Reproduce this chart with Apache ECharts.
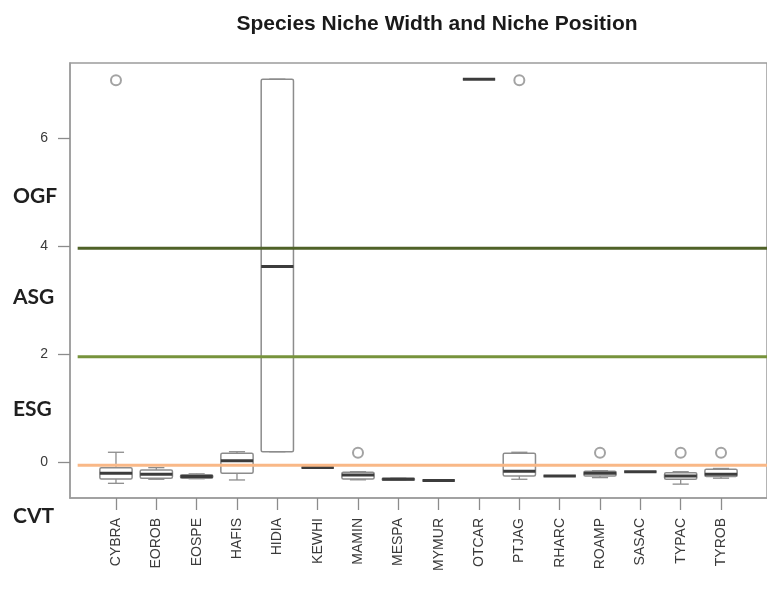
<!DOCTYPE html>
<html>
<head>
<meta charset="utf-8">
<title>Species Niche Width and Niche Position</title>
<script src="https://cdn.jsdelivr.net/npm/echarts@6/dist/echarts.min.js"></script>
<style>
  html, body { margin: 0; padding: 0; background: #ffffff; }
  #chart { width: 767px; height: 591px; }
</style>
</head>
<body>
<div id="chart"></div>
<script>
// Species codes along the x axis
const species = ['CYBRA', 'EOROB', 'EOSPE', 'HAFIS', 'HIDIA', 'KEWHI', 'MAMIN', 'MESPA',
                 'MYMUR', 'OTCAR', 'PTJAG', 'RHARC', 'ROAMP', 'SASAC', 'TYPAC', 'TYROB'];

// Five-number summaries of niche position per species
const whiskerLow  = [-0.395, -0.32, -0.31, -0.333, 0.19, -0.10, -0.33, -0.335, -0.345, 7.09, -0.32, -0.26, -0.29, -0.18, -0.41, -0.30];
const lowerQuart  = [-0.315, -0.30, -0.30, -0.21, 0.19, -0.10, -0.315, -0.335, -0.345, 7.09, -0.26, -0.26, -0.26, -0.18, -0.32, -0.27];
const medians     = [-0.21, -0.228, -0.27, 0.024, 3.62, -0.10, -0.24, -0.32, -0.345, 7.09, -0.17, -0.26, -0.21, -0.18, -0.26, -0.228];
const upperQuart  = [-0.105, -0.148, -0.235, 0.16, 7.09, -0.10, -0.19, -0.30, -0.345, 7.09, 0.16, -0.26, -0.17, -0.18, -0.20, -0.135];
const whiskerHigh = [0.18, -0.105, -0.22, 0.19, 7.09, -0.10, -0.18, -0.30, -0.345, 7.09, 0.18, -0.26, -0.16, -0.18, -0.18, -0.12];

// Outlying observations: species index (1-based) and value
const outlierSpecies = [1, 7, 11, 13, 15, 16];
const outlierValues  = [7.07, 0.17, 7.07, 0.17, 0.17, 0.17];

// Y-axis ticks
const yTicks = [0, 2, 4, 6];

// Zone boundaries and the zone names written beside the axis
const boundaryValues = [3.96, 1.95, -0.06];
const boundaryColors = ['#4f6228', '#77933c', '#f9b887'];
const zoneNames = ['OGF', 'ASG', 'ESG', 'CVT'];

const chart = echarts.init(document.getElementById('chart'), null, { renderer: 'canvas' });

const boxData = species.map((s, i) => [i + 1, whiskerLow[i], lowerQuart[i], medians[i], upperQuart[i], whiskerHigh[i]]);
const outlierData = outlierSpecies.map((s, i) => [s, outlierValues[i]]);

const boxStroke = '#8c8c8c';

function renderBox(params, api) {
  const x = api.value(0);
  const lo = api.coord([x, api.value(1)]);
  const q1 = api.coord([x, api.value(2)]);
  const md = api.coord([x, api.value(3)]);
  const q3 = api.coord([x, api.value(4)]);
  const hi = api.coord([x, api.value(5)]);
  const halfW = api.size([0.4, 0])[0];
  const cx = lo[0];
  const thin = { stroke: boxStroke, lineWidth: 1.3, fill: null };
  return {
    type: 'group',
    children: [
      { type: 'line', shape: { x1: cx, y1: q3[1], x2: cx, y2: hi[1] }, style: thin },
      { type: 'line', shape: { x1: cx, y1: q1[1], x2: cx, y2: lo[1] }, style: thin },
      { type: 'line', shape: { x1: cx - halfW / 2, y1: hi[1], x2: cx + halfW / 2, y2: hi[1] }, style: thin },
      { type: 'line', shape: { x1: cx - halfW / 2, y1: lo[1], x2: cx + halfW / 2, y2: lo[1] }, style: thin },
      { type: 'rect', shape: { x: cx - halfW, y: q3[1], width: halfW * 2, height: q1[1] - q3[1], r: 1.5 },
        style: { stroke: boxStroke, lineWidth: 1.5, fill: 'rgba(255,255,255,0)' } },
      { type: 'line', shape: { x1: cx - halfW, y1: md[1], x2: cx + halfW, y2: md[1] },
        style: { stroke: '#3c3c3c', lineWidth: 3 } }
    ]
  };
}

const lineSeries = boundaryValues.map((v, i) => ({
  type: 'line',
  data: [[0.05, v], [17.14, v]],
  symbol: 'none',
  silent: true,
  clip: false,
  z: 5,
  lineStyle: { color: boundaryColors[i], width: 3 }
}));

const zoneY = [198, 299, 411, 518];

const option = {
  backgroundColor: '#ffffff',
  animation: false,
  title: {
    text: 'Species Niche Width and Niche Position',
    left: 432,
    top: 9,
    textAlign: 'center',
    textStyle: { fontFamily: 'Liberation Sans', fontWeight: 'bold', fontSize: 21, color: '#1a1a1a' }
  },
  grid: {
    left: 70, top: 63, width: 708, height: 435,
    show: true, borderColor: '#9c9c9c', borderWidth: 1.5, backgroundColor: 'transparent'
  },
  xAxis: {
    type: 'value',
    min: -0.14, max: 17.14,
    axisLine: { show: true, onZero: false, lineStyle: { color: '#9c9c9c', width: 1.5 } },
    axisTick: { show: true, length: 12, customValues: species.map((s, i) => i + 1),
                lineStyle: { color: '#8c8c8c', width: 1.3 } },
    axisLabel: {
      show: true, customValues: species.map((s, i) => i + 1),
      rotate: 90, margin: 20,
      formatter: v => species[Math.round(v) - 1] || '',
      fontFamily: 'Liberation Sans', fontSize: 14, color: '#3a3a3a'
    },
    splitLine: { show: false }
  },
  yAxis: {
    type: 'value',
    min: -0.667, max: 7.389,
    axisLine: { show: true, onZero: false, lineStyle: { color: '#9c9c9c', width: 1.5 } },
    axisTick: { show: true, length: 12, customValues: yTicks, lineStyle: { color: '#8c8c8c', width: 1.3 } },
    axisLabel: { show: true, customValues: yTicks, margin: 22,
                 fontFamily: 'Liberation Sans', fontSize: 14, color: '#3a3a3a' },
    splitLine: { show: false }
  },
  graphic: zoneNames.map((name, i) => ({
    type: 'text',
    left: 13,
    top: zoneY[i] - 12,
    style: { text: name, font: 'bold 21px Lato', fill: '#1f1f1f' }
  })),
  series: [
    {
      type: 'custom',
      renderItem: renderBox,
      data: boxData,
      encode: { x: 0, y: [1, 2, 3, 4, 5] },
      z: 3,
      silent: true
    },
    {
      type: 'scatter',
      data: outlierData,
      symbol: 'emptyCircle',
      symbolSize: 10,
      itemStyle: { color: '#8c8c8c', borderColor: '#8c8c8c', borderWidth: 1.5 },
      z: 3,
      silent: true
    }
  ].concat(lineSeries)
};

chart.setOption(option);
</script>
</body>
</html>
